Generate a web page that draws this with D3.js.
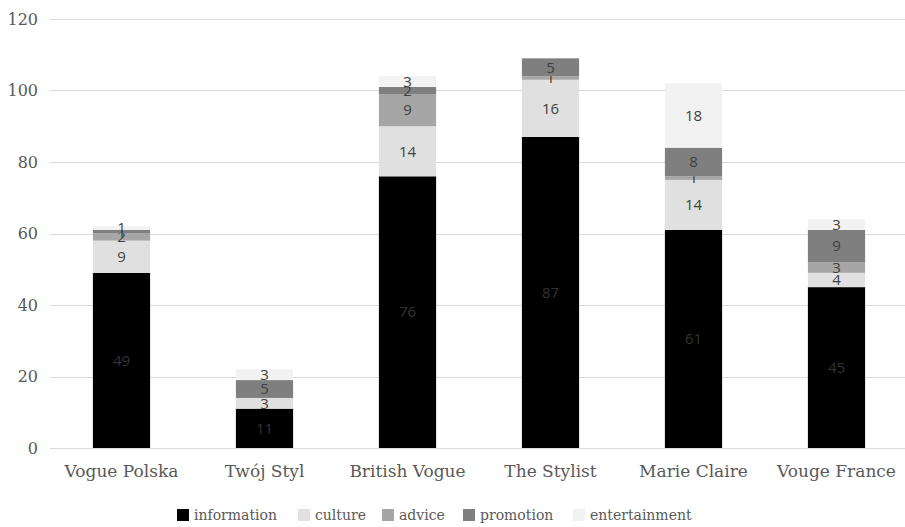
<!DOCTYPE html>
<html>
<head>
<meta charset="utf-8">
<script src="https://cdn.jsdelivr.net/npm/d3@7"></script>
<style>
  body { margin: 0; background: #fff; }
  svg { display: block; }
</style>
</head>
<body>
<svg width="905" height="527"></svg>
<script>
var magazines = ["Vogue Polska", "Twój Styl", "British Vogue", "The Stylist", "Marie Claire", "Vouge France"];
var categories = ["information", "culture", "advice", "promotion", "entertainment"];

var information   = [49, 11, 76, 87, 61, 45];
var culture       = [9, 3, 14, 16, 14, 4];
var advice        = [2, 0, 9, 1, 1, 3];
var promotion     = [1, 5, 2, 5, 8, 9];
var entertainment = [1, 3, 3, 0, 18, 3];

var yTicks = [0, 20, 40, 60, 80, 100, 120];

var colors = ["#000000", "#e0e0e0", "#a6a6a6", "#7f7f7f", "#f2f2f2"];

var series = [information, culture, advice, promotion, entertainment];
var rows = magazines.map(function (m, i) {
  var r = { name: m };
  categories.forEach(function (c, k) { r[c] = series[k][i]; });
  return r;
});

var stacked = d3.stack().keys(categories)(rows);

var serif = "'DejaVu Serif', 'Liberation Serif', serif";

var svg = d3.select("svg");

var xScale = d3.scaleBand()
      .domain(magazines)
      .range([50, 908])
      .paddingInner(0.6)
      .paddingOuter(0.3);
var yScale = d3.scaleLinear()
      .domain([0, 120])
      .range([448, 19]);

var color = d3.scaleOrdinal().domain(categories).range(colors);

// gridlines
svg.append("g")
      .selectAll("line")
      .data(yTicks)
      .enter()
      .append("line")
      .attr("x1", 50)
      .attr("x2", 905)
      .attr("y1", d => Math.round(yScale(d)) + 0.5)
      .attr("y2", d => Math.round(yScale(d)) + 0.5)
      .attr("stroke", "#d9d9d9")
      .attr("stroke-width", 1);

// y labels
svg.append("g")
      .selectAll("text")
      .data(yTicks)
      .enter()
      .append("text")
      .attr("x", 38)
      .attr("y", d => yScale(d))
      .attr("dy", "0.35em")
      .attr("text-anchor", "end")
      .style("font-family", serif)
      .style("font-size", "16px")
      .attr("fill", "#595959")
      .text(d => d);

// bars
var layers = svg.append("g")
      .selectAll("g")
      .data(stacked)
      .enter()
      .append("g")
      .attr("fill", d => color(d.key));

layers.selectAll("rect")
      .data(d => d)
      .enter()
      .append("rect")
      .attr("x", d => xScale(d.data.name))
      .attr("y", d => yScale(d[1]))
      .attr("width", xScale.bandwidth())
      .attr("height", d => yScale(d[0]) - yScale(d[1]));

// segment labels
layers.selectAll("text")
      .data(d => d.filter(s => s[1] - s[0] > 0))
      .enter()
      .append("text")
      .attr("x", d => xScale(d.data.name) + xScale.bandwidth() / 2)
      .attr("y", d => yScale((d[0] + d[1]) / 2))
      .attr("dy", "0.35em")
      .attr("text-anchor", "middle")
      .style("font-family", "'Open Sans', 'Liberation Sans', sans-serif")
      .style("font-size", "15px")
      .attr("fill", d => d[0] < 1 ? "#333333" : "#404040")
      .text(d => d[1] - d[0]);

// x labels
svg.append("g")
      .selectAll("text")
      .data(magazines)
      .enter()
      .append("text")
      .attr("x", d => xScale(d) + xScale.bandwidth() / 2)
      .attr("y", 477)
      .attr("text-anchor", "middle")
      .style("font-family", serif)
      .style("font-size", "17px")
      .attr("fill", "#595959")
      .text(d => d);

// legend
var legendOffsets = { information: 177, culture: 298, advice: 382, promotion: 463, entertainment: 573 };

var legend = svg.append("g")
      .selectAll("g")
      .data(categories)
      .enter()
      .append("g")
      .attr("transform", d => "translate(" + legendOffsets[d] + ",509)");

legend.append("rect")
      .attr("width", 12)
      .attr("height", 12)
      .attr("fill", d => color(d));

legend.append("text")
      .attr("x", 17)
      .attr("y", 11)
      .style("font-family", serif)
      .style("font-size", "14px")
      .attr("fill", "#595959")
      .text(d => d);
</script>
</body>
</html>
